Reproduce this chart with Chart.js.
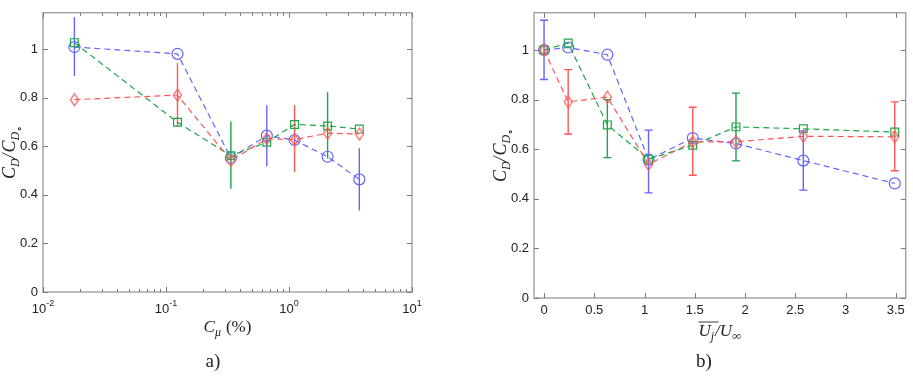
<!DOCTYPE html>
<html>
<head>
<meta charset="utf-8">
<script src="https://cdn.jsdelivr.net/npm/chart.js@4.4.1/dist/chart.umd.min.js"></script>
<style>
  html, body { margin: 0; padding: 0; background: #fff; }
  #wrap { position: relative; width: 913px; height: 377px; }
  canvas { position: absolute; top: 0; }
  #chartA { left: 0; }
  #chartB { left: 460px; }
</style>
</head>
<body>
<div id="wrap">
  <canvas id="chartA" width="460" height="377"></canvas>
  <canvas id="chartB" width="453" height="377"></canvas>
</div>
<script>
// ---- data, panel a) : drag ratio vs momentum coefficient (log x) ----
const cmuValues = [0.018, 0.124, 0.337, 0.66, 1.11, 2.06, 3.73];
const blueA  = [1.009, 0.981, 0.552, 0.644, 0.626, 0.557, 0.464];
const greenA = [1.027, 0.699, 0.561, 0.617, 0.690, 0.684, 0.671];
const redA   = [0.792, 0.811, 0.542, 0.631, 0.628, 0.654, 0.651];
const blueLowA   = [0.890, null, null, 0.518, null, null, 0.336];
const blueHighA  = [1.132, null, null, 0.769, null, null, 0.592];
const greenLowA  = [null, null, 0.425, null, null, 0.550, null];
const greenHighA = [null, null, 0.702, null, null, 0.823, null];
const redLowA    = [null, 0.680, null, null, 0.494, null, null];
const redHighA   = [null, 0.943, null, null, 0.770, null, null];

// ---- data, panel b) : drag ratio vs jet velocity ratio ----
const velocityRatio = [0, 0.24, 0.63, 1.04, 1.48, 1.91, 2.58, 3.49];
const blueB  = [1.0, 1.010, 0.981, 0.558, 0.645, 0.623, 0.554, 0.462];
const greenB = [1.0, 1.028, 0.698, 0.560, 0.616, 0.690, 0.682, 0.669];
const redB   = [1.0, 0.791, 0.810, 0.539, 0.629, 0.630, 0.652, 0.650];
const blueLowB   = [0.881, null, null, 0.424, null, null, 0.435, null];
const blueHighB  = [1.120, null, null, 0.677, null, null, 0.674, null];
const greenLowB  = [null, null, 0.566, null, null, 0.553, null, null];
const greenHighB = [null, null, 0.800, null, null, 0.826, null, null];
const redLowB    = [null, 0.661, null, null, 0.495, null, null, 0.513];
const redHighB   = [null, 0.921, null, null, 0.769, null, null, 0.791];

// ---- ticks ----
const yTicks = [0, 0.2, 0.4, 0.6, 0.8, 1];
const logTicks = [0.01, 0.1, 1, 10];
const logTickExp = ['-2', '-1', '0', '1'];
const linTicks = [0, 0.5, 1, 1.5, 2, 2.5, 3, 3.5];

const BLUE = '#6464ff';
const RED = '#ff5555';
const GREEN = '#1aa548';
const AXIS = '#7a7a7a';
const TEXT = '#222';
const SANS = '"Liberation Sans", Arial, sans-serif';
const SERIF = '"Liberation Serif", "Times New Roman", serif';

// tall diamond marker like matlab 'd'
function makeDiamond(color) {
    const c = document.createElement('canvas');
    c.width = 11;
    c.height = 15;
    const g = c.getContext('2d');
    g.strokeStyle = color;
    g.lineWidth = 1.2;
    g.beginPath();
    g.moveTo(5.5, 1.5);
    g.lineTo(9.5, 7.5);
    g.lineTo(5.5, 13.5);
    g.lineTo(1.5, 7.5);
    g.closePath();
    g.stroke();
    return c;
}
const diamond = makeDiamond(RED);

function series(xs, ys, color, style, radius, low, high) {
    return {
        data: xs.map((x, i) => ({ x, y: ys[i] })),
        borderColor: color,
        backgroundColor: 'transparent',
        borderWidth: 1.2,
        borderDash: [6, 4],
        pointStyle: style,
        pointRadius: radius,
        pointBorderWidth: 1.2,
        pointBorderColor: color,
        pointBackgroundColor: 'transparent',
        errLow: low,
        errHigh: high,
        tension: 0
    };
}

// draw text made of pieces with sizes/offsets (subscripts etc.)
function drawRich(ctx, parts, cx, cy, rotate) {
    ctx.save();
    ctx.translate(cx, cy);
    if (rotate) ctx.rotate(-Math.PI / 2);
    let total = 0;
    parts.forEach(p => {
        ctx.font = (p.italic ? 'italic ' : '') + p.size + 'px ' + SERIF;
        p.w = ctx.measureText(p.t).width + (p.gap || 0);
        total += p.w;
    });
    let x = -total / 2;
    ctx.fillStyle = TEXT;
    ctx.textBaseline = 'alphabetic';
    ctx.textAlign = 'left';
    parts.forEach(p => {
        ctx.font = (p.italic ? 'italic ' : '') + p.size + 'px ' + SERIF;
        ctx.fillText(p.t, x, (p.dy || 0) + 5);
        if (p.over) {
            ctx.strokeStyle = TEXT;
            ctx.lineWidth = 0.9;
            ctx.beginPath();
            ctx.moveTo(x, -9);
            ctx.lineTo(x + p.over, -9);
            ctx.stroke();
        }
        x += p.w;
    });
    ctx.restore();
}

const yTitle = [
    { t: 'C', size: 18, italic: true },
    { t: 'D', size: 12, italic: true, dy: 4 },
    { t: '/', size: 18, italic: true, gap: 1 },
    { t: 'C', size: 18, italic: true },
    { t: 'D', size: 12, italic: true, dy: 4 },
    { t: '\u2218', size: 10, dy: 7 }
];
const xTitleA = [
    { t: 'C', size: 17, italic: true },
    { t: '\u03bc', size: 12, italic: true, dy: 4, gap: 5 },
    { t: '(%)', size: 17 }
];
const xTitleB = [
    { t: 'U', size: 17, italic: true, over: 20 },
    { t: 'j', size: 12, italic: true, dy: 4, gap: 1 },
    { t: '/', size: 17, italic: true },
    { t: 'U', size: 17, italic: true },
    { t: '\u221e', size: 13, dy: 4 }
];

// matlab-ish box: inward ticks on all four sides, error bars, titles
const framePlugin = {
    id: 'frame',
    beforeDatasetsDraw(chart) {
        const ctx = chart.ctx;
        const xs = chart.scales.x, ys = chart.scales.y;
        const cap = chart.options.plugins.frame.cap;
        ctx.save();
        ctx.lineWidth = 1.4;
        chart.data.datasets.forEach(ds => {
            ctx.strokeStyle = ds.borderColor;
            ds.data.forEach((p, i) => {
                if (ds.errLow[i] == null) return;
                const px = xs.getPixelForValue(p.x);
                const y1 = ys.getPixelForValue(ds.errLow[i]);
                const y2 = ys.getPixelForValue(ds.errHigh[i]);
                ctx.beginPath();
                ctx.moveTo(px, y1);
                ctx.lineTo(px, y2);
                if (cap) {
                    ctx.moveTo(px - cap, y1);
                    ctx.lineTo(px + cap, y1);
                    ctx.moveTo(px - cap, y2);
                    ctx.lineTo(px + cap, y2);
                }
                ctx.stroke();
            });
        });
        ctx.restore();
    },
    afterDraw(chart) {
        const ctx = chart.ctx;
        const a = chart.chartArea;
        const xs = chart.scales.x, ys = chart.scales.y;
        const opts = chart.options.plugins.frame;
        ctx.save();
        ctx.strokeStyle = AXIS;
        ctx.lineWidth = 1;
        ctx.strokeRect(a.left, a.top, a.right - a.left, a.bottom - a.top);
        ctx.beginPath();
        const major = 5, minor = 3;
        xs.ticks.forEach(t => {
            const px = Math.round(xs.getPixelForValue(t.value)) + 0.5;
            ctx.moveTo(px, a.bottom); ctx.lineTo(px, a.bottom - major);
            ctx.moveTo(px, a.top); ctx.lineTo(px, a.top + major);
        });
        if (xs.type === 'logarithmic') {
            for (let d = 0; d < logTicks.length - 1; d++) {
                for (let m = 2; m < 10; m++) {
                    const px = Math.round(xs.getPixelForValue(logTicks[d] * m)) + 0.5;
                    ctx.moveTo(px, a.bottom); ctx.lineTo(px, a.bottom - minor);
                    ctx.moveTo(px, a.top); ctx.lineTo(px, a.top + minor);
                }
            }
        }
        ys.ticks.forEach(t => {
            const py = Math.round(ys.getPixelForValue(t.value)) + 0.5;
            ctx.moveTo(a.left, py); ctx.lineTo(a.left + major, py);
            ctx.moveTo(a.right, py); ctx.lineTo(a.right - major, py);
        });
        ctx.stroke();

        // power-of-ten tick labels
        if (xs.type === 'logarithmic') {
            ctx.fillStyle = TEXT;
            ctx.textBaseline = 'alphabetic';
            xs.ticks.forEach((t, i) => {
                const px = xs.getPixelForValue(t.value);
                ctx.font = '13px ' + SANS;
                const w1 = ctx.measureText('10').width;
                ctx.font = '9px ' + SANS;
                const w2 = ctx.measureText(logTickExp[i]).width;
                const x0 = px - (w1 + w2) / 2;
                ctx.font = '13px ' + SANS;
                ctx.fillText('10', x0, a.bottom + 21);
                ctx.font = '9px ' + SANS;
                ctx.fillText(logTickExp[i], x0 + w1, a.bottom + 14);
            });
        }
        ctx.restore();

        const midX = (a.left + a.right) / 2;
        const midY = (a.top + a.bottom) / 2;
        drawRich(ctx, yTitle, opts.yTitleX, midY, true);
        drawRich(ctx, opts.xTitle, midX, opts.xTitleY, false);
        ctx.save();
        ctx.fillStyle = TEXT;
        ctx.font = '19px ' + SERIF;
        ctx.textAlign = 'center';
        ctx.textBaseline = 'middle';
        ctx.fillText(opts.panel, opts.panelX, 362);
        ctx.restore();
    }
};

const plainLabel = v => String(Math.round(v * 100) / 100);

function yScale(width) {
    return {
        min: 0,
        max: 1.15,
        afterFit: s => { s.width = width; },
        afterBuildTicks: s => { s.ticks = yTicks.map(v => ({ value: v })); },
        grid: { display: false, drawTicks: false },
        border: { display: false },
        ticks: { color: TEXT, padding: 5, callback: plainLabel, font: { family: SANS, size: 13 } }
    };
}

const common = {
    responsive: false,
    animation: false,
    plugins: { legend: { display: false }, tooltip: { enabled: false } }
};

new Chart(document.getElementById('chartA'), {
    type: 'line',
    data: {
        datasets: [
            series(cmuValues, redA, RED, diamond, 6, redLowA, redHighA),
            series(cmuValues, greenA, GREEN, 'rect', 5.5, greenLowA, greenHighA),
            series(cmuValues, blueA, BLUE, 'circle', 5.5, blueLowA, blueHighA)
        ]
    },
    options: {
        ...common,
        layout: { padding: { left: 0, right: 48, top: 2, bottom: 0 } },
        plugins: {
            ...common.plugins,
            frame: { cap: 0, xTitle: xTitleA, xTitleY: 327, yTitleX: 10, panel: 'a)', panelX: 213 }
        },
        scales: {
            x: {
                type: 'logarithmic',
                min: 0.01,
                max: 10,
                afterFit: s => { s.height = 85; },
                afterBuildTicks: s => { s.ticks = logTicks.map(v => ({ value: v })); },
                grid: { display: false, drawTicks: false },
                border: { display: false },
                ticks: { display: false }
            },
            y: yScale(43)
        }
    },
    plugins: [framePlugin]
});

new Chart(document.getElementById('chartB'), {
    type: 'line',
    data: {
        datasets: [
            series(velocityRatio, redB, RED, diamond, 6, redLowB, redHighB),
            series(velocityRatio, greenB, GREEN, 'rect', 5.5, greenLowB, greenHighB),
            series(velocityRatio, blueB, BLUE, 'circle', 5.5, blueLowB, blueHighB)
        ]
    },
    options: {
        ...common,
        layout: { padding: { left: 0, right: 2, top: 1, bottom: 0 } },
        plugins: {
            ...common.plugins,
            frame: { cap: 4, xTitle: xTitleB, xTitleY: 331, yTitleX: 41, panel: 'b)', panelX: 244 }
        },
        scales: {
            x: {
                type: 'linear',
                min: -0.1,
                max: 3.6,
                afterFit: s => { s.height = 79; },
                afterBuildTicks: s => { s.ticks = linTicks.map(v => ({ value: v })); },
                grid: { display: false, drawTicks: false },
                border: { display: false },
                ticks: { color: TEXT, padding: 5, maxRotation: 0, autoSkip: false, callback: plainLabel, font: { family: SANS, size: 13 } }
            },
            y: yScale(74)
        }
    },
    plugins: [framePlugin]
});
</script>
</body>
</html>
